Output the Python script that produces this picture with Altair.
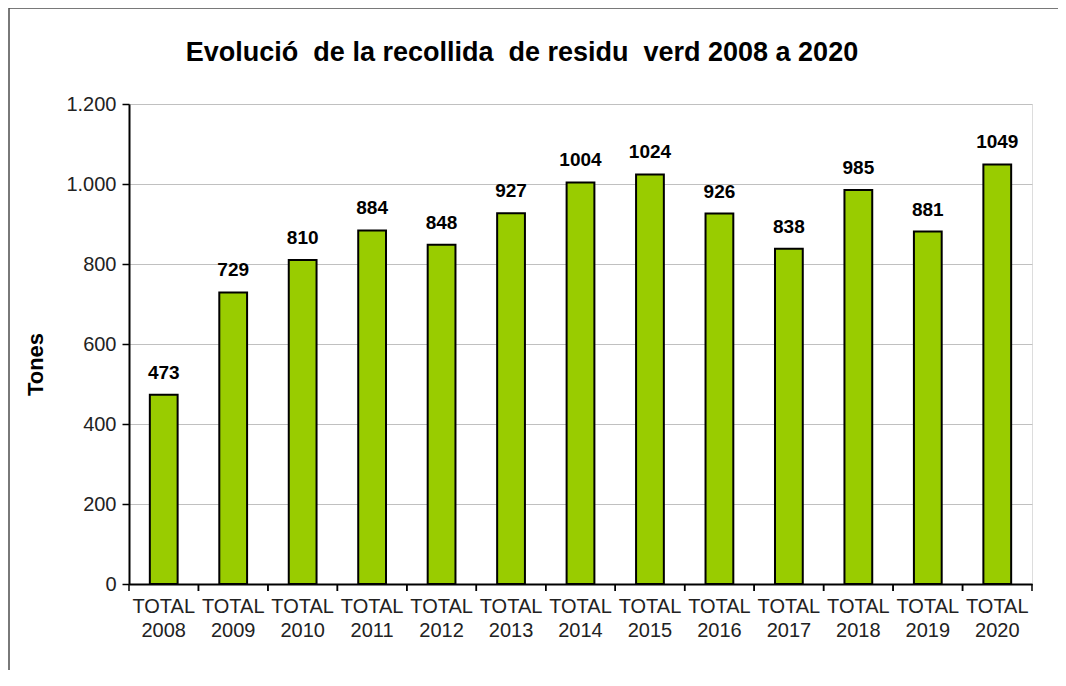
import altair as alt
import pandas as pd

years = ["2008", "2009", "2010", "2011", "2012", "2013", "2014",
         "2015", "2016", "2017", "2018", "2019", "2020"]
values = [473, 729, 810, 884, 848, 927, 1004, 1024, 926, 838, 985, 881, 1049]
categories = ["TOTAL " + y for y in years]
y_ticks = [0, 200, 400, 600, 800, 1000, 1200]

title_text = "Evolució\u00a0 de la recollida\u00a0 de residu\u00a0 verd 2008 a 2020"

df = pd.DataFrame({"cat": categories, "value": values})

FONT = "Liberation Sans"

xscale = alt.Scale(paddingInner=0, paddingOuter=0)

base = alt.Chart(df)

frame = alt.Chart(pd.DataFrame({"a": [0]})).mark_rect(
    fillOpacity=0, stroke="#4d4d4d", strokeWidth=1.5
).encode(
    x=alt.value(-120), x2=alt.value(1000),
    y=alt.value(-96), y2=alt.value(700)
)

title = alt.Chart(pd.DataFrame({"t": [title_text]})).mark_text(
    font=FONT, fontSize=27, fontWeight="bold", color="black",
    align="center", baseline="alphabetic"
).encode(
    text="t:N", x=alt.value(393), y=alt.value(-43)
)

bars = base.mark_bar(
    width=alt.RelativeBandSize(0.4), fill="#99CC00", stroke="black", strokeWidth=2
).encode(
    x=alt.X("cat:N", sort=categories, scale=xscale, title=None,
            axis=alt.Axis(ticks=False, labelAngle=0, labelExpr="split(datum.label, ' ')",
                          labelFont=FONT, labelFontSize=20, labelLineHeight=24,
                          labelColor="#222", labelPadding=12, domainColor="black",
                          domainWidth=2, labelBaseline="top")),
    y=alt.Y("value:Q", scale=alt.Scale(domain=[0, 1200]), title="Tones",
            axis=alt.Axis(values=y_ticks,
                          labelExpr="replace(format(datum.value, ','), ',', '.')",
                          labelFont=FONT, labelFontSize=20, labelColor="#222",
                          labelPadding=6, tickSize=7, tickColor="black", tickWidth=1.5,
                          domainColor="black", domainWidth=2,
                          gridColor="#C0C0C0", gridWidth=1,
                          titleFont=FONT, titleFontSize=22, titleFontWeight="bold",
                          titleColor="black", titleAngle=270, titleX=-94, titleY=260,
                          titleAlign="center", titleBaseline="middle")),
)

labels = base.mark_text(
    font=FONT, fontSize=19, fontWeight="bold", color="black",
    baseline="alphabetic", dy=-16
).encode(
    x=alt.X("cat:N", sort=categories, scale=xscale),
    y=alt.Y("value:Q"),
    text=alt.Text("value:Q", format="d"),
)

ticks_left = base.mark_rule(color="black", strokeWidth=1.5).encode(
    x=alt.X("cat:N", sort=categories, scale=xscale, bandPosition=0),
    y=alt.value(480), y2=alt.value(487),
)
ticks_right = base.mark_rule(color="black", strokeWidth=1.5).encode(
    x=alt.X("cat:N", sort=categories, scale=xscale, bandPosition=1),
    y=alt.value(480), y2=alt.value(487),
)

chart = alt.layer(frame, title, bars, labels, ticks_left, ticks_right).properties(
    width=903, height=480,
    autosize=alt.AutoSizeParams(type="none"),
    padding={"left": 121, "top": 96, "right": 26, "bottom": 86},
).configure_view(
    fill="#FFFFCC", stroke="#808080", strokeWidth=2
).configure(background="white")

chart.save("out.html", embed_options={"renderer": "svg", "actions": False})
